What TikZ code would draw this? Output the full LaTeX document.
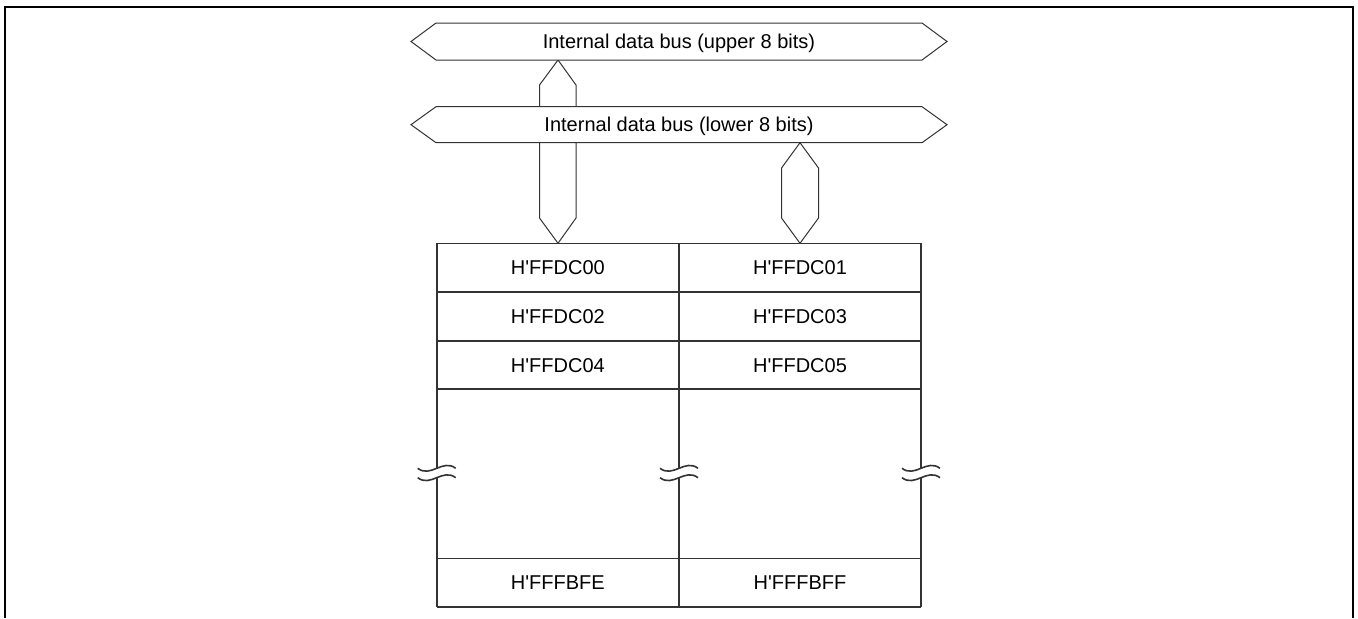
\documentclass[tikz,border=0pt]{standalone}
\usepackage{fontspec}
\setmainfont{Liberation Sans}
\newcommand{\hq}{H\textquotesingle}
\tikzset{
  bus/.style={draw=black!80,line width=0.5pt,fill=white,line join=miter},
  grid/.style={draw=black!80,line width=0.8pt},
  lbl/.style={inner sep=0pt,text height=7.2pt,text depth=0pt,font=\fontsize{10}{12}\selectfont},
}
\begin{document}
\begin{tikzpicture}[x=0.5pt,y=0.5pt]
\useasboundingbox (0,0) rectangle (1358,618);
\draw[line width=1pt] (5,0) -- (5,611) -- (1353,611) -- (1353,0);

% buses
\draw[bus] (558,558) -- (576,533) -- (576,400) -- (558,374.7) -- (539.5,400) -- (539.5,533) -- cycle;
\draw[bus] (800,475.3) -- (818.5,450) -- (818.5,400) -- (800,374.7) -- (781.5,400) -- (781.5,450) -- cycle;
\draw[bus] (411,576.5) -- (436,595) -- (922,595) -- (947,576.5) -- (922,558) -- (436,558) -- cycle;
\node[lbl] (upbus) at (679,576.5) {Internal data bus (upper 8 bits)};
\draw[bus] (411,493.3) -- (436,511.3) -- (922,511.3) -- (947,493.3) -- (922,475.3) -- (436,475.3) -- cycle;
\node[lbl] (lowbus) at (679,493.3) {Internal data bus (lower 8 bits)};

% memory
\foreach \y in {374.7,326,277.3,229,59.7,11.3}
  \draw[grid] (436.7,\y) -- (921,\y);
\foreach \x in {436.7,679,921} {
  \draw[grid] (\x,374.7) -- (\x,149.7);
  \draw[grid] (\x,140.3) -- (\x,11.3);
  \draw[grid] (\x-19,149.7) .. controls (\x-6,139.7) and (\x+6,159.7) .. (\x+19,149.7);
  \draw[grid] (\x-19,140.3) .. controls (\x-6,130.3) and (\x+6,150.3) .. (\x+19,140.3);
}
\node[lbl] (c00) at (557.85,350.35) {\hq FFDC00};
\node[lbl] (c01) at (800,350.35) {\hq FFDC01};
\node[lbl] (c02) at (557.85,301.65) {\hq FFDC02};
\node[lbl] (c03) at (800,301.65) {\hq FFDC03};
\node[lbl] (c04) at (557.85,253.15) {\hq FFDC04};
\node[lbl] (c05) at (800,253.15) {\hq FFDC05};
\node[lbl] (cfe) at (557.85,35.5) {\hq FFFBFE};
\node[lbl] (cff) at (800,35.5) {\hq FFFBFF};
\end{tikzpicture}
\end{document}
